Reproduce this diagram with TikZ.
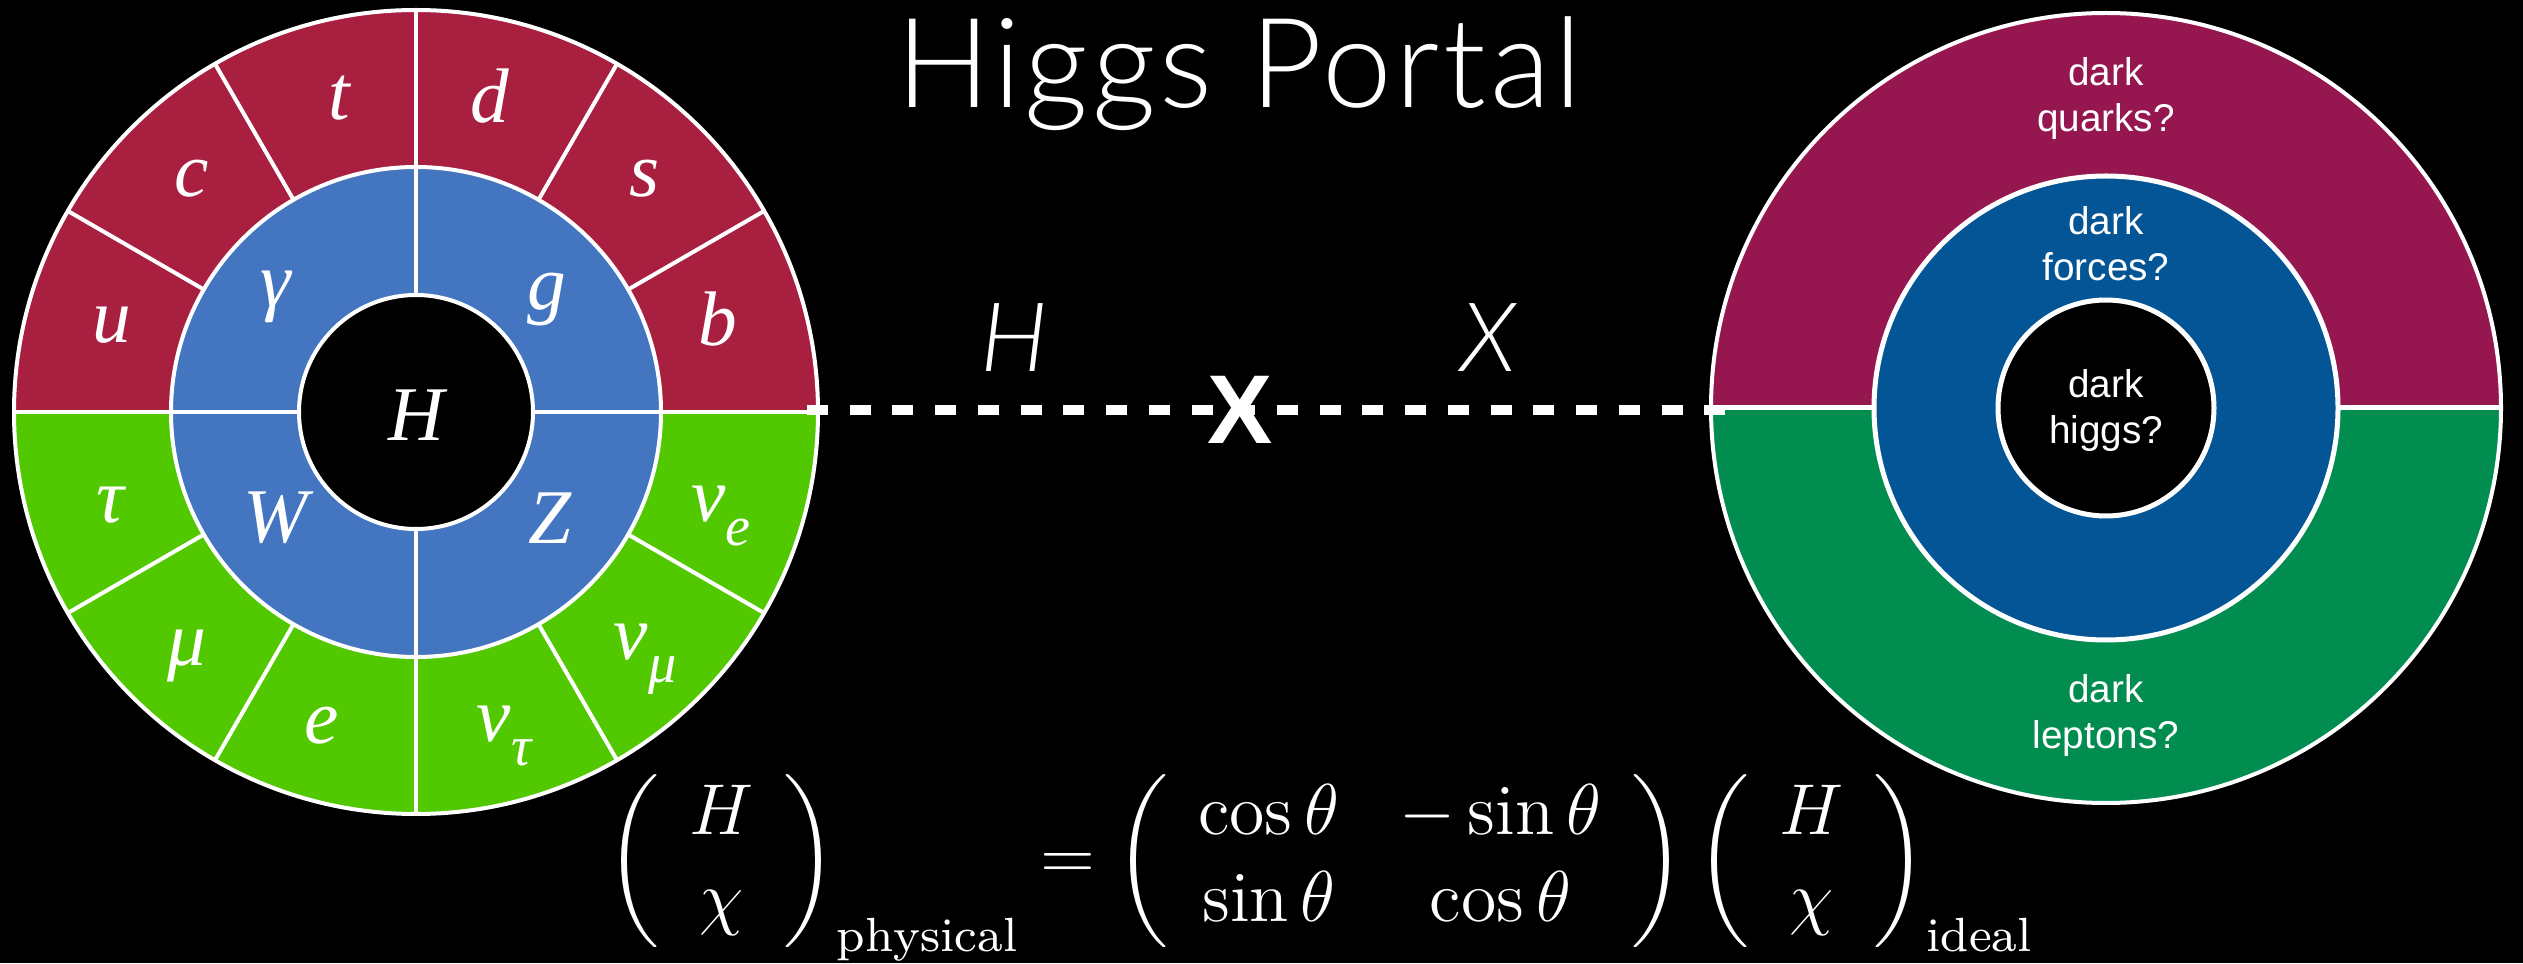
\documentclass[tikz,border=0pt]{standalone}
\usepackage{fontspec}
\usepackage{amsmath}
\IfFontExistsTF{Lato Light}{\newfontfamily\thinfont{Lato Light}[LetterSpace=3]}{\newfontfamily\thinfont{Liberation Sans}}
\IfFontExistsTF{Lato Light Italic}{\newfontfamily\thinit{Lato Light Italic}}{\newfontfamily\thinit{Liberation Sans Italic}}
\newfontfamily\labfont{Liberation Serif Italic}
\newfontfamily\darkfont{Liberation Sans}
\newfontfamily\boldsans{Liberation Sans Bold}
\definecolor{lred}{HTML}{A91F40}
\definecolor{lblue}{HTML}{4475C1}
\definecolor{lgreen}{HTML}{52C800}
\definecolor{rmag}{HTML}{961650}
\definecolor{rblue}{HTML}{035596}
\definecolor{rgreen}{HTML}{028D50}
\begin{document}
\begin{tikzpicture}[x=0.01cm,y=0.01cm,
  ring/.style={draw=white, line width=0.04cm},
  rring/.style={draw=white, line width=0.05cm},
  lab/.style={text=white, font=\labfont\fontsize{22pt}{22pt}\selectfont, inner sep=0},
  dk/.style={text=white, font=\darkfont\fontsize{11pt}{13.1pt}\selectfont, align=center, anchor=north, inner sep=0},
  portal/.style={draw=white, line width=0.1cm, dash pattern=on 0.21cm off 0.217cm},
  fieldlab/.style={text=white, font=\thinit\fontsize{27.3pt}{27.3pt}\selectfont, inner sep=0, anchor=base}
]
\fill[black] (0,0) rectangle (2523,963);
\useasboundingbox (0,0) rectangle (2523,963);

% ---------- left circle (Standard Model) ----------
\begin{scope}[shift={(416,551)}]
  \fill[lred] (402,0) arc[start angle=0,end angle=180,radius=402] -- cycle;
  \fill[lgreen] (-402,0) arc[start angle=180,end angle=360,radius=402] -- cycle;
  \fill[lblue] (0,0) circle[radius=245];
  \fill[black] (0,0) circle[radius=117];
  \foreach \a in {0,30,...,330} \draw[ring] (\a:245) -- (\a:402);
  \foreach \a in {0,90,180,270} \draw[ring] (\a:117) -- (\a:245);
  \draw[ring] (0,0) circle[radius=402];
  \draw[ring] (0,0) circle[radius=245];
  \draw[ring] (0,0) circle[radius=117];
  \node[lab] (u) at (-304,87) {u};
  \node[lab] (c) at (-224,233) {c};
  \node[lab] (t) at (-77,314) {t};
  \node[lab] (d) at (74,316) {d};
  \node[lab] (s) at (229,233) {s};
  \node[lab] (b) at (302,93) {b};
  \node[lab] (tau) at (-306,-93) {τ};
  \node[lab] (mu) at (-229,-244) {μ};
  \node[lab] (e) at (-94,-314) {e};
  \node[lab] (nut) at (88,-324) {ν\raisebox{-0.3em}{\fontsize{16pt}{16pt}\selectfont τ}};
  \node[lab] (num) at (229,-247) {ν\raisebox{-0.3em}{\fontsize{16pt}{16pt}\selectfont μ}};
  \node[lab] (nue) at (305,-104) {ν\raisebox{-0.3em}{\fontsize{16pt}{16pt}\selectfont e}};
  \node[lab] (gam) at (-140,115) {γ};
  \node[lab] (g) at (131,112) {g};
  \node[lab] (W) at (-140,-106) {W};
  \node[lab] (Z) at (134,-106) {Z};
  \node[lab] (H) at (0,-3) {H};
\end{scope}

% ---------- right circle (dark sector) ----------
\begin{scope}[shift={(2106,555)}]
  \fill[rmag] (395,0) arc[start angle=0,end angle=180,radius=395] -- cycle;
  \fill[rgreen] (-395,0) arc[start angle=180,end angle=360,radius=395] -- cycle;
  \draw[draw=white, line width=0.04cm] (0,0) circle[radius=395];
  \draw[rring] (-395,0) -- (-232,0);
  \draw[rring] (232,0) -- (395,0);
  \fill[rblue] (0,0) circle[radius=232];
  \draw[rring] (0,0) circle[radius=232];
  \fill[black] (0,0) circle[radius=108];
  \draw[rring] (0,0) circle[radius=108];
  \node[dk] (dq) at (0,351) {dark\\quarks?};
  \node[dk] (df) at (0,202) {dark\\forces?};
  \node[dk] (dh) at (0,39) {dark\\higgs?};
  \node[dk] (dl) at (0,-266) {dark\\leptons?};
\end{scope}

% ---------- title ----------
\node[text=white, font=\thinfont\fontsize{35.5pt}{35.5pt}\selectfont, inner sep=0, anchor=base] (title) at (1239,855) {Higgs Portal};

% ---------- portal line ----------
\coordinate (dashL) at (807,553);
\coordinate (dashR) at (1725,553);
\draw[portal] (dashL) -- (dashR);
\node[text=white, font=\boldsans\fontsize{27.8pt}{27.8pt}\selectfont, inner sep=0] (mix) at (1240,553) {X};
\node[fieldlab] (Hlab) at (1014,591) {H};
\node[fieldlab] (Xlab) at (1488,591) {X};

% ---------- mixing equation ----------
\node[text=white, inner sep=0, anchor=base west] (eq) at (606,84) {\scalebox{1.708}{\fontsize{12pt}{14.5pt}\selectfont$\left(\begin{array}{c} H \\ \chi \end{array}\right)_{\mathrm{physical}} = \left(\begin{array}{cc} \cos\theta & -\sin\theta \\ \sin\theta & \cos\theta \end{array}\right)\left(\begin{array}{c} H \\ \chi \end{array}\right)_{\mathrm{ideal}}$}};
\end{tikzpicture}
\end{document}
